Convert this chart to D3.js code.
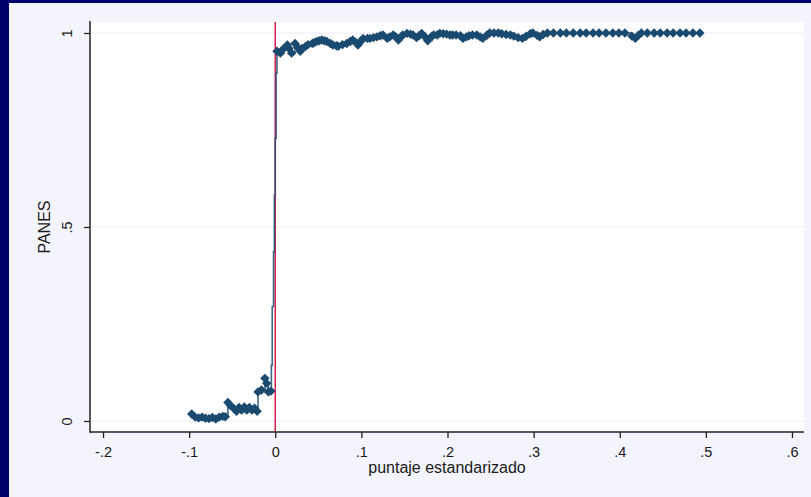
<!DOCTYPE html>
<html><head><meta charset="utf-8">
<script src="https://cdn.jsdelivr.net/npm/d3@7"></script>
<style>body{margin:0;background:#fff}svg{display:block}</style>
</head><body>
<svg id="chart" width="811" height="497"></svg>
<script>
// Points below the cutoff (score < 0)
const leftX = [-0.097,-0.093,-0.089,-0.085,-0.081,-0.077,-0.073,-0.069,-0.065,-0.061,-0.058,-0.055,-0.052,-0.048,-0.045,-0.042,-0.039,-0.036,-0.033,-0.030,-0.027,-0.024,-0.021,-0.020,-0.016,-0.012,-0.010,-0.008,-0.005];
const leftY = [0.018,0.010,0.008,0.010,0.007,0.006,0.009,0.005,0.010,0.012,0.011,0.048,0.040,0.032,0.025,0.035,0.028,0.036,0.028,0.035,0.028,0.033,0.025,0.075,0.080,0.110,0.097,0.075,0.077];
// Steep jump around the cutoff (line only)
const jumpX = [-0.0045,-0.0035,-0.002,-0.001,0.000,0.001];
const jumpY = [0.144,0.295,0.436,0.582,0.729,0.897];
// Points above the cutoff
const rightX = [0.002,0.006,0.009,0.014,0.016,0.019,0.023,0.026,0.029,0.031,0.035,0.038,0.043,0.045,0.048,0.051,0.054,0.057,0.060,0.064,0.067,0.071,0.073,0.078,0.083,0.087,0.090,0.094,0.096,0.100,0.102,0.107,0.110,0.114,0.118,0.122,0.125,0.130,0.133,0.137,0.140,0.143,0.146,0.148,0.153,0.157,0.160,0.164,0.167,0.170,0.174,0.177,0.182,0.184,0.188,0.191,0.195,0.199,0.203,0.206,0.210,0.215,0.218,0.222,0.225,0.229,0.234,0.238,0.241,0.246,0.249,0.254,0.259,0.263,0.268,0.273,0.277,0.282,0.287,0.291,0.296,0.299,0.304,0.307,0.311,0.316,0.323,0.331,0.338,0.346,0.354,0.361,0.369,0.376,0.384,0.392,0.399,0.406,0.414,0.418,0.421,0.425,0.432,0.440,0.447,0.455,0.462,0.470,0.477,0.485,0.493];
const rightY = [0.953,0.948,0.958,0.969,0.960,0.948,0.973,0.963,0.953,0.960,0.965,0.970,0.973,0.975,0.978,0.980,0.982,0.980,0.978,0.973,0.969,0.967,0.966,0.970,0.973,0.978,0.982,0.975,0.969,0.980,0.986,0.986,0.986,0.988,0.990,0.993,0.995,0.986,0.990,0.995,0.990,0.982,0.990,0.995,0.999,0.997,0.995,0.988,0.993,0.999,0.990,0.980,0.992,0.995,0.995,0.999,0.998,0.997,0.995,0.995,0.995,0.993,0.986,0.990,0.993,0.995,0.995,0.990,0.986,0.995,1.000,1.000,1.000,0.998,0.996,0.995,0.992,0.988,0.986,0.991,0.998,1.000,0.994,0.990,0.996,1.000,1.000,1.000,1.000,1.000,1.000,1.000,1.000,1.000,1.000,1.000,1.000,1.000,0.992,0.986,0.993,1.000,1.000,1.000,1.000,1.000,1.000,1.000,1.000,1.000,1.000];

const xTicks = [-0.2,-0.1,0,0.1,0.2,0.3,0.4,0.5,0.6];
const xTickLabels = ["-.2","-.1","0",".1",".2",".3",".4",".5",".6"];
const yTicks = [0,0.5,1];
const yTickLabels = ["0",".5","1"];
const cutoff = 0;
const xTitle = "puntaje estandarizado";
const yTitle = "PANES";

const svg = d3.select("#chart");
const W = 811, H = 497;
const plot = {left:90, right:804, top:22, bottom:432};
const FONT = "'Liberation Sans', Arial, sans-serif";
const INK = "#1a1a1a";

// background frame
svg.append("rect").attr("width",W).attr("height",H).attr("fill","#00006b");
svg.append("rect").attr("x",9).attr("y",3).attr("width",W-9).attr("height",H-3).attr("fill","#f4f4fc");
svg.append("rect").attr("x",plot.left).attr("y",plot.top)
  .attr("width",plot.right-plot.left).attr("height",plot.bottom-plot.top).attr("fill","#ffffff");

const x = d3.scaleLinear().domain([-0.2,0.6]).range([103,792]);
const y = d3.scaleLinear().domain([0,1]).range([421,33]);

// gridlines
svg.append("g").selectAll("line").data(yTicks).join("line")
  .attr("x1",plot.left).attr("x2",plot.right)
  .attr("y1",d=>y(d)).attr("y2",d=>y(d))
  .attr("stroke","#ebebf6").attr("stroke-width",1);

// cutoff line
svg.append("line")
  .attr("x1",x(cutoff)).attr("x2",x(cutoff))
  .attr("y1",plot.top).attr("y2",plot.bottom)
  .attr("stroke","#d81f4b").attr("stroke-width",1.5);

// series
const all = [];
leftX.forEach((v,i)=>all.push([v,leftY[i]]));
jumpX.forEach((v,i)=>all.push([v,jumpY[i]]));
rightX.forEach((v,i)=>all.push([v,rightY[i]]));
const markers = [];
leftX.forEach((v,i)=>markers.push([v,leftY[i]]));
rightX.forEach((v,i)=>markers.push([v,rightY[i]]));

const COL = "#1b4a71";
svg.append("path").datum(all)
  .attr("d", d3.line().x(d=>x(d[0])).y(d=>y(d[1])).curve(d3.curveStepAfter))
  .attr("fill","none").attr("stroke",COL).attr("stroke-width",1.6).attr("stroke-opacity",0.85);

const sym = d3.symbol(d3.symbolSquare, 44)();
svg.append("g").selectAll("path").data(markers).join("path")
  .attr("d", sym)
  .attr("transform", d=>`translate(${x(d[0])},${y(d[1])}) rotate(45)`)
  .attr("fill", COL);

// axes lines
svg.append("line").attr("x1",plot.left).attr("x2",plot.left)
  .attr("y1",plot.top-1).attr("y2",plot.bottom+0.75)
  .attr("stroke","#222").attr("stroke-width",1.5);
svg.append("line").attr("x1",plot.left).attr("x2",plot.right)
  .attr("y1",plot.bottom).attr("y2",plot.bottom)
  .attr("stroke","#222").attr("stroke-width",1.5);

// x axis ticks
const gx = svg.append("g").attr("transform",`translate(0,${plot.bottom})`)
  .call(d3.axisBottom(x).tickValues(xTicks).tickSize(6).tickFormat((d,i)=>xTickLabels[i]));
gx.select(".domain").remove();
gx.selectAll(".tick line").attr("stroke","#222").attr("stroke-width",1.3);
gx.selectAll(".tick text").attr("y",15).attr("font-family",FONT).attr("font-size",14.5).attr("fill",INK);

// y axis ticks
const gy = svg.append("g").attr("transform",`translate(${plot.left},0)`)
  .call(d3.axisLeft(y).tickValues(yTicks).tickSize(6).tickFormat((d,i)=>yTickLabels[i]));
gy.select(".domain").remove();
gy.selectAll(".tick line").attr("stroke","#222").attr("stroke-width",1.3);
gy.selectAll(".tick text")
  .attr("transform","rotate(-90)")
  .attr("x",0).attr("y",-18).attr("dy",0)
  .attr("text-anchor","middle")
  .attr("font-family",FONT).attr("font-size",14.5).attr("fill",INK);

// titles
svg.append("text").attr("x",447).attr("y",473).attr("text-anchor","middle")
  .attr("font-family",FONT).attr("font-size",16).attr("fill",INK).text(xTitle);
svg.append("text").attr("transform","translate(50,227) rotate(-90)").attr("text-anchor","middle")
  .attr("font-family",FONT).attr("font-size",16).attr("fill",INK).text(yTitle);
</script>
</body></html>
